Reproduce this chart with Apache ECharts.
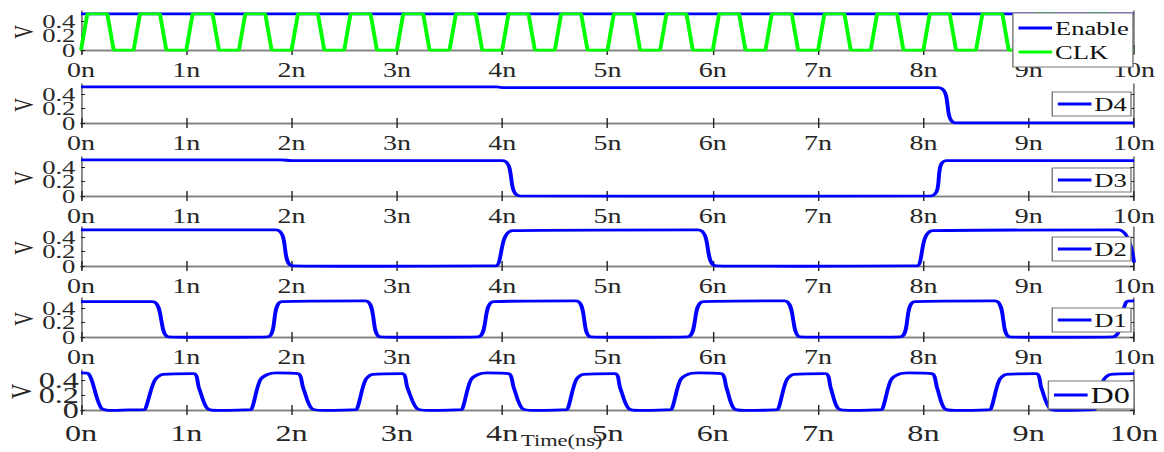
<!DOCTYPE html>
<html><head><meta charset="utf-8">
<script src="https://cdn.jsdelivr.net/npm/echarts@6/dist/echarts.min.js"></script>
<style>html,body{margin:0;padding:0;background:#fff;overflow:hidden}
#c{width:831px;height:452px;transform:scaleX(1.4007);transform-origin:0 0}</style>
</head><body><div id="c"></div>
<script>
const xTicks=[0,1,2,3,4,5,6,7,8,9,10];
const xTickLabels=['0n','1n','2n','3n','4n','5n','6n','7n','8n','9n','10n'];
const yTicks=[0,0.2,0.4];
const yTickLabels=['0','0.2','0.4'];
const panelNames=[['Enable','CLK'],['D4'],['D3'],['D2'],['D1'],['D0']];

const enable=[[0,0.5],[10,0.5]];
const clk=[[0,0],[0.06,0.5],[0.25,0.5],[0.31,0],
[0.5,0],[0.56,0.5],[0.75,0.5],[0.81,0],
[1,0],[1.06,0.5],[1.25,0.5],[1.31,0],
[1.5,0],[1.56,0.5],[1.75,0.5],[1.81,0],
[2,0],[2.06,0.5],[2.25,0.5],[2.31,0],
[2.5,0],[2.56,0.5],[2.75,0.5],[2.81,0],
[3,0],[3.06,0.5],[3.25,0.5],[3.31,0],
[3.5,0],[3.56,0.5],[3.75,0.5],[3.81,0],
[4,0],[4.06,0.5],[4.25,0.5],[4.31,0],
[4.5,0],[4.56,0.5],[4.75,0.5],[4.81,0],
[5,0],[5.06,0.5],[5.25,0.5],[5.31,0],
[5.5,0],[5.56,0.5],[5.75,0.5],[5.81,0],
[6,0],[6.06,0.5],[6.25,0.5],[6.31,0],
[6.5,0],[6.56,0.5],[6.75,0.5],[6.81,0],
[7,0],[7.06,0.5],[7.25,0.5],[7.31,0],
[7.5,0],[7.56,0.5],[7.75,0.5],[7.81,0],
[8,0],[8.06,0.5],[8.25,0.5],[8.31,0],
[8.5,0],[8.56,0.5],[8.75,0.5],[8.81,0],
[9,0],[9.06,0.5],[9.25,0.5],[9.31,0],
[9.5,0],[9.56,0.5],[9.75,0.5],[9.81,0],
[10,0]];
const d4=[[0,0.5],[3.95,0.5],[4.02,0.49],[8.14,0.49],[8.31,0.002],[10,0.002]];
const d3=[[0,0.5],[1.9,0.5],[2.0,0.49],[4.0,0.49],[4.17,0.003],[6,0],[8.07,0.003],[8.22,0.49],[10,0.49]];
const d2=[[0,0.5],[1.85,0.5],[2.01,0.004],[2.8,-0.002],[3.85,0.004],[3.94,0.004],[4.1,0.49],[5.86,0.5],[6.03,0.004],[6.8,-0.002],[7.85,0.004],[7.94,0.004],[8.09,0.49],[9.85,0.5],[10,0.05]];
const d1=[[0,0.49],[0.68,0.49],[0.83,0.004],[1.2,-0.002],[1.77,0.004],[1.91,0.49],[2.7,0.5],[2.84,0.004],[3.2,-0.002],[3.77,0.004],[3.92,0.49],[4.7,0.5],[4.84,0.004],[5.2,-0.002],[5.76,0.004],[5.91,0.49],[6.68,0.5],[6.83,0.004],[7.2,0],[7.78,0.004],[7.92,0.49],[8.68,0.5],[8.82,0.004],[9.2,-0.002],[9.8,0.004],[9.93,0.49],[10,0.5]];
const d0=[[0,0.5],[0.07,0.49],[0.19,0.03],[0.3,-0.005],[0.45,0.002],[0.6,0.005],
[0.62,0.05],[0.7,0.4],[0.78,0.48],[1.07,0.49],
[1.12,0.3],[1.2,0.02],[1.3,-0.005],[1.61,0.005],
[1.63,0.05],[1.7,0.4],[1.77,0.48],[1.86,0.5],[2.06,0.49],
[2.11,0.3],[2.19,0.02],[2.3,-0.005],[2.61,0.005],
[2.63,0.05],[2.7,0.4],[2.77,0.48],[3.05,0.49],
[3.1,0.3],[3.19,0.02],[3.3,-0.005],[3.61,0.005],
[3.63,0.05],[3.7,0.4],[3.77,0.48],[3.86,0.5],[4.06,0.49],
[4.11,0.3],[4.19,0.02],[4.3,-0.005],[4.61,0.005],
[4.63,0.05],[4.7,0.4],[4.77,0.48],[5.07,0.49],
[5.12,0.3],[5.2,0.02],[5.3,-0.005],[5.6,0.005],
[5.62,0.05],[5.69,0.4],[5.76,0.48],[5.86,0.5],[6.08,0.49],
[6.13,0.3],[6.2,0.02],[6.3,-0.005],[6.61,0.005],
[6.63,0.05],[6.7,0.4],[6.77,0.48],[7.07,0.49],
[7.12,0.3],[7.19,0.02],[7.3,-0.005],[7.6,0.005],
[7.62,0.05],[7.69,0.4],[7.76,0.48],[7.86,0.5],[8.08,0.49],
[8.13,0.3],[8.2,0.02],[8.3,-0.005],[8.63,0.005],
[8.65,0.05],[8.72,0.4],[8.79,0.48],[9.07,0.49],
[9.12,0.3],[9.2,0.02],[9.3,-0.005],[9.62,0.005],
[9.64,0.05],[9.71,0.4],[9.78,0.48],[10,0.49]];

const S=1.4007; // horizontal stretch of the reference figure
const FONT="'Liberation Serif','Times New Roman',serif";
const tops=[11,84,157,227,298,370];
const H=42;
const xLab=[20,20,20,20,20,23];
const yLab=[19,19,19,19,19,23];
const grids=[],xAxes=[],yAxes=[],legends=[],series=[];
const boxColor='#7f7f7f';
const yLabFmt=v=>yTickLabels[yTicks.indexOf(Math.round(v*10)/10)];
const yOuter=[yTicks[0],yTicks[2]], yInner=[yTicks[1]];
tops.forEach((t,i)=>{
  const big=i===5;
  grids.push({left:81/S,width:1053/S,top:t,height:big?43:H,show:false,containLabel:false,outerBoundsMode:'none'});
  xAxes.push({gridIndex:i,type:'value',min:0,max:10,interval:1,position:'bottom',
    axisLine:{show:true,lineStyle:{color:boxColor,width:1.3}},
    axisTick:{show:true,inside:true,length:5,lineStyle:{color:'#222',width:1}},
    axisLabel:{show:true,hideOverlap:false,margin:big?9:7,fontFamily:FONT,fontSize:xLab[i],color:'#262626',
      formatter:v=>xTickLabels[xTicks.indexOf(v)]},
    splitLine:{show:false}});
  xAxes.push({gridIndex:i,type:'value',min:0,max:10,interval:1,position:'top',
    axisLine:{show:true,lineStyle:{color:boxColor,width:1.3}},
    axisTick:{show:true,inside:true,length:5,lineStyle:{color:'#222',width:1}},
    axisLabel:{show:false},splitLine:{show:false}});
  const labStyle={show:true,hideOverlap:false,showMinLabel:true,showMaxLabel:true,margin:big?1.5:4,
    fontFamily:FONT,fontSize:yLab[i],color:'#262626',formatter:yLabFmt};
  yAxes.push({gridIndex:i,type:'value',min:-0.04,max:0.54,position:'left',
    name:'V',nameLocation:'middle',nameRotate:90,nameGap:big?32:31,nameMoveOverlap:false,
    nameTextStyle:{fontFamily:FONT,fontSize:big?21:19,color:'#262626'},
    axisLine:{show:true,lineStyle:{color:boxColor,width:1.3}},
    axisTick:{show:true,inside:true,length:4/S,customValues:yTicks,lineStyle:{color:'#222',width:1}},
    axisLabel:Object.assign({customValues:yOuter},labStyle),
    splitLine:{show:false}});
  yAxes.push({gridIndex:i,type:'value',min:-0.04,max:0.54,position:'left',
    axisLine:{show:false},axisTick:{show:false},
    axisLabel:Object.assign({customValues:yInner},labStyle),
    splitLine:{show:false}});
  yAxes.push({gridIndex:i,type:'value',min:-0.04,max:0.54,position:'right',
    axisLine:{show:true,lineStyle:{color:boxColor,width:1.3}},
    axisTick:{show:true,inside:true,length:4/S,customValues:yTicks,lineStyle:{color:'#222',width:1}},
    axisLabel:{show:false},splitLine:{show:false}});
});
const sigs=[[['Enable',enable,'#0000ff'],['CLK',clk,'#00ff00']],[['D4',d4,'#0000ff']],[['D3',d3,'#0000ff']],[['D2',d2,'#0000ff']],[['D1',d1,'#0000ff']],[['D0',d0,'#0000ff']]];
sigs.forEach((arr,i)=>{
  arr.forEach(([name,data,color])=>{
    series.push({type:'line',name,data,xAxisIndex:2*i,yAxisIndex:3*i,symbol:'none',
      smooth:name==='CLK'||name==='Enable'?false:0.3,
      lineStyle:{color,width:2.8},itemStyle:{color},clip:true,z:3});
  });
});
const legPos=[
  {right:31/S,top:13,orient:'vertical',padding:[5,3,5,4],itemGap:4},
  {right:33/S,top:92},
  {right:33/S,top:168},
  {right:33/S,top:237},
  {right:33/S,top:308},
  {right:30/S,top:381}];
legPos.forEach((p,i)=>{
  legends.push(Object.assign({data:panelNames[i].map(n=>({name:n,icon:'rect'})),backgroundColor:'#fff',borderColor:'#777',borderWidth:1,
    padding:[2,3,2,4],itemGap:2,itemWidth:24,itemHeight:3,
    textStyle:{fontFamily:FONT,fontSize:i===5?23:19,lineHeight:i===5?24:20,color:'#111',padding:[0,0,0,-3]}},p));
});
const chart=echarts.init(document.getElementById('c'),null,{renderer:'svg',width:831,height:452});
chart.setOption({animation:false,grid:grids,xAxis:xAxes,yAxis:yAxes,legend:legends,series,
  graphic:[{type:'text',left:521/S,top:433,style:{text:'Time(ns)',font:'16px '+FONT,fill:'#262626'}}]});
</script></body></html>
